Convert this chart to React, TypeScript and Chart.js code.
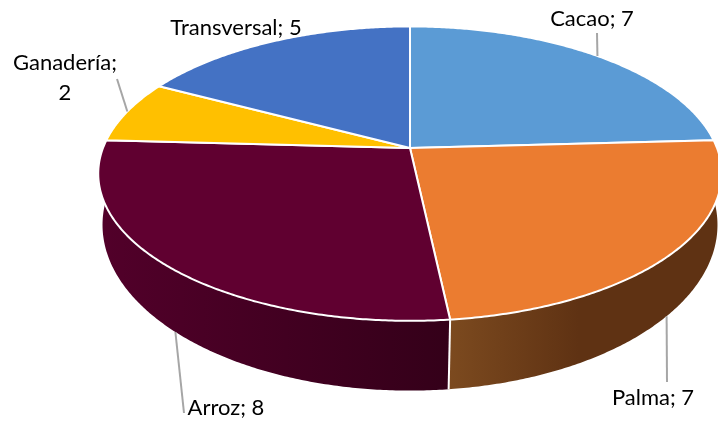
import React, { useEffect, useRef } from "react";
import { Chart, registerables } from "chart.js";

Chart.register(...registerables);

const categories = ["Cacao", "Palma", "Arroz", "Ganadería", "Transversal"];
const values = [7, 7, 8, 2, 5];
const topColors = ["#5B9BD5", "#EB7C30", "#600030", "#FFC000", "#4472C4"];
const wallLeftColors = ["#3A6F9E", "#7C4A1F", "#52002A", "#B58800", "#2F5597"];
const wallRightColors = ["#3A6F9E", "#5F3213", "#340019", "#B58800", "#2F5597"];
const labelLines = [["Cacao; 7"], ["Palma; 7"], ["Arroz; 8"], ["Ganadería;", "2"], ["Transversal; 5"]];

// where each data label sits: text centre x, first baseline y, leader end
const labelLayout = [
  { cx: 592, y: 26, leader: [597, 33], wall: false },
  { cx: 653, y: 405, leader: [667, 382], wall: true },
  { cx: 226, y: 415, leader: [184, 413], wall: true },
  { cx: 65, y: 70, leader: [117, 79], wall: false },
  { cx: 236, y: 35, leader: null, wall: false },
];

const FONT = '22px Lato, "Open Sans", sans-serif';

// projective views of the pie's circle: top face and bottom face
const CX = 410;
const topFace = { a: 307, b: 117, c: 148, k: -0.174 };
const bottomFace = { a: 304, b: 132, c: 200, k: -0.15 };

function project(f: typeof topFace, theta: number): [number, number] {
  const u = Math.sin(theta);
  const v = -Math.cos(theta);
  const w = 1 + f.k * v;
  return [CX + (f.a * u) / w, (f.b * v + f.c) / w];
}

const pie3d = {
  id: "pie3d",
  beforeDatasetsDraw(chart: any) {
    const ctx: CanvasRenderingContext2D = chart.ctx;
    const arcs = chart.getDatasetMeta(0).data.map((el: any) => ({
      start: el.startAngle + Math.PI / 2,
      end: el.endAngle + Math.PI / 2,
    }));
    const step = Math.PI / 360;
    ctx.save();
    ctx.lineJoin = "round";

    // side walls, only the part of the rim that faces the viewer
    const wallMin = (80 * Math.PI) / 180;
    const wallMax = (285 * Math.PI) / 180;
    arcs.forEach((arc: any, i: number) => {
      const s = Math.max(arc.start, wallMin);
      const e = Math.min(arc.end, wallMax);
      if (e <= s) return;
      const top: [number, number][] = [];
      const bottom: [number, number][] = [];
      for (let t = s; t < e; t += step) {
        top.push(project(topFace, t));
        bottom.push(project(bottomFace, t));
      }
      top.push(project(topFace, e));
      bottom.push(project(bottomFace, e));
      const xs = top.concat(bottom).map((p) => p[0]);
      const minX = Math.min(...xs);
      const maxX = Math.max(...xs);
      // Palma's lighter end is next to the seam and fades quickly
      const g = ctx.createLinearGradient(minX, 0, i === 1 ? minX + 130 : maxX, 0);
      g.addColorStop(0, wallLeftColors[i]);
      g.addColorStop(1, wallRightColors[i]);
      ctx.fillStyle = g;
      ctx.beginPath();
      top.forEach((p, n) => (n ? ctx.lineTo(p[0], p[1]) : ctx.moveTo(p[0], p[1])));
      bottom.reverse().forEach((p) => ctx.lineTo(p[0], p[1]));
      ctx.closePath();
      ctx.fill();
    });

    // seams between walls
    ctx.strokeStyle = "#FFFFFF";
    ctx.lineWidth = 2;
    arcs.forEach((arc: any) => {
      if (arc.end > wallMin && arc.end < wallMax) {
        const a = project(topFace, arc.end);
        const b = project(bottomFace, arc.end);
        ctx.beginPath();
        ctx.moveTo(a[0], a[1]);
        ctx.lineTo(b[0], b[1]);
        ctx.stroke();
      }
    });

    // top face wedges
    arcs.forEach((arc: any, i: number) => {
      ctx.beginPath();
      ctx.moveTo(CX, topFace.c);
      for (let t = arc.start; t < arc.end; t += step) {
        const p = project(topFace, t);
        ctx.lineTo(p[0], p[1]);
      }
      const last = project(topFace, arc.end);
      ctx.lineTo(last[0], last[1]);
      ctx.closePath();
      ctx.fillStyle = topColors[i];
      ctx.fill();
      ctx.stroke();
    });

    // leader lines and labels
    ctx.fillStyle = "#000000";
    ctx.font = FONT;
    ctx.textAlign = "center";
    ctx.textBaseline = "alphabetic";
    arcs.forEach((arc: any, i: number) => {
      const layout = labelLayout[i];
      if (layout.leader) {
        const mid = (arc.start + arc.end) / 2;
        const from = project(layout.wall ? bottomFace : topFace, mid);
        ctx.strokeStyle = "#A6A6A6";
        ctx.lineWidth = 2;
        ctx.beginPath();
        ctx.moveTo(from[0], from[1]);
        ctx.lineTo(layout.leader[0], layout.leader[1]);
        ctx.stroke();
      }
      labelLines[i].forEach((line, n) => {
        ctx.fillText(line, layout.cx, layout.y + n * 30);
      });
    });
    ctx.restore();
    return false;
  },
};

export default function App() {
  const ref = useRef<HTMLCanvasElement | null>(null);
  useEffect(() => {
    const chart = new Chart(ref.current as HTMLCanvasElement, {
      type: "pie",
      data: {
        labels: categories,
        datasets: [{ data: values, backgroundColor: topColors }],
      },
      options: {
        responsive: false,
        animation: false,
        plugins: { legend: { display: false }, tooltip: { enabled: false } },
      },
      plugins: [pie3d],
    } as any);
    return () => chart.destroy();
  }, []);
  return (
    <div style={{ position: "absolute", left: 0, top: 0, width: 718, height: 423, background: "#FFFFFF" }}>
      <canvas ref={ref} width={718} height={423} style={{ display: "block" }} />
    </div>
  );
}
